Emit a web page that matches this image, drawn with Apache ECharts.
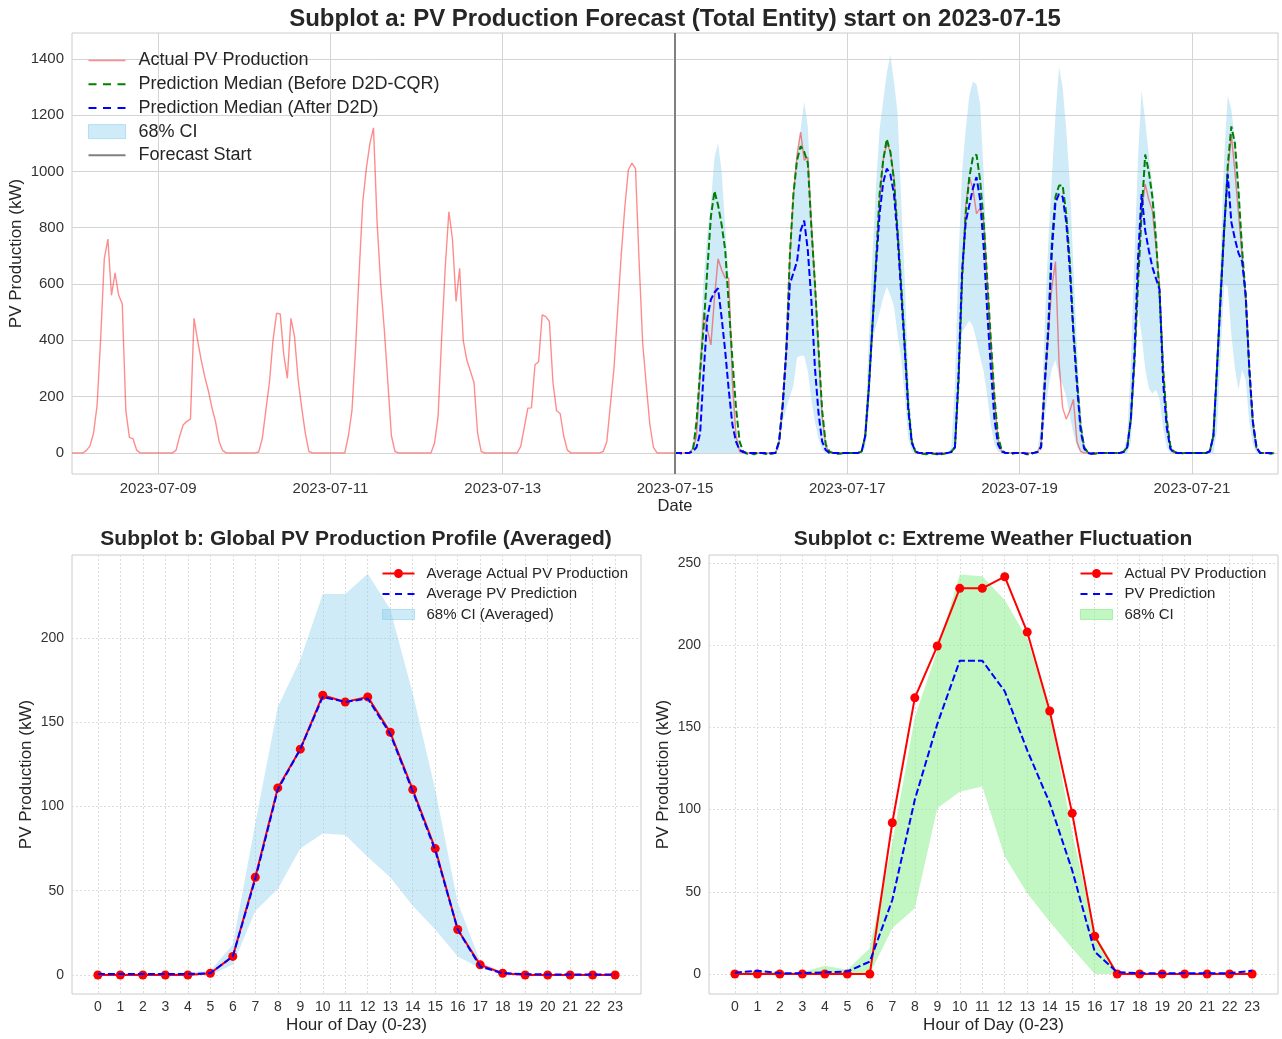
<!DOCTYPE html>
<html><head><meta charset="utf-8">
<script src="https://cdn.jsdelivr.net/npm/echarts@6/dist/echarts.min.js"></script>
<style>html,body{margin:0;padding:0;background:#fff}#c{width:1282px;height:1039px}</style>
</head><body><div id="c"></div>
<script>
// ---------- Subplot a: hourly data, hour index counted from 2023-07-08 00:00 ----------
const dateTickHours = [24, 72, 120, 168, 216, 264, 312];
const dateTickLabels = ['2023-07-09','2023-07-11','2023-07-13','2023-07-15','2023-07-17','2023-07-19','2023-07-21'];
const forecastStartHour = 168;
const yTicksA = [0, 200, 400, 600, 800, 1000, 1200, 1400];

const actualHist = [
  0,0,0,0,8,25,70,170,410,690,760,560,640,560,530,150,55,50,10,0,0,0,0,0,          // 07-08
  0,0,0,0,0,10,60,100,112,120,478,400,330,270,220,160,110,40,8,0,0,0,0,0,           // 07-09
  0,0,0,0,3,50,150,250,400,496,494,350,265,478,413,260,160,70,5,0,0,0,0,0,          // 07-10
  0,0,0,0,0,60,150,370,640,890,1010,1100,1155,820,600,440,250,60,5,0,0,0,0,0,       // 07-11
  0,0,0,0,0,34,129,413,662,857,760,538,656,400,330,290,250,70,5,0,0,0,0,0,          // 07-12
  0,0,0,0,0,22,90,159,160,313,324,490,484,467,250,150,140,60,10,0,0,0,0,0,          // 07-13
  0,0,0,0,5,40,170,300,500,700,870,1005,1030,1010,680,390,240,100,20,0,0,0,0,0      // 07-14
];
const actualFcst = [
  0,0,0,0,0,15,60,280,500,440,384,550,690,650,621,621,250,60,5,0,0,0,0,0,           // 07-15
  0,0,0,0,0,40,170,360,700,920,1060,1140,1040,1050,810,600,360,130,25,0,0,0,0,0,    // 07-16
  0,0,0,0,5,60,230,450,680,900,1040,1100,1070,980,790,590,380,160,35,0,0,0,0,0,     // 07-17
  0,0,0,0,0,3,20,260,620,880,980,940,850,870,820,600,390,190,50,5,0,0,0,0,          // 07-18
  0,0,0,0,0,5,30,230,420,590,680,320,160,120,150,190,40,5,0,0,0,0,0,0,              // 07-19
  0,0,0,0,0,3,20,120,330,620,860,955,900,860,733,600,300,110,20,0,0,0,0,0,          // 07-20
  0,0,0,0,0,10,60,300,540,780,1000,1130,1000,850,700,540,290,100,15,0,0,0,0,0       // 07-21
];
const predBefore = [
  0,0,-3,0,0,10,110,290,450,650,840,930,880,810,720,520,330,160,40,5,-3,0,-5,0,     // 07-15
  0,-3,-5,-3,0,40,170,360,700,920,1040,1090,1070,1030,800,600,370,150,30,5,0,-3,-3,0, // 07-16
  0,0,0,0,5,60,230,450,680,920,1040,1115,1070,970,790,600,390,170,40,5,-3,-3,-5,0,  // 07-17
  -3,-5,-5,-3,0,5,20,250,620,850,980,1050,1060,970,820,615,400,200,60,10,0,0,-3,0,  // 07-18
  0,0,-5,-5,0,3,22,250,450,750,910,950,950,850,680,440,260,100,20,3,-3,-3,0,0,      // 07-19
  0,0,0,0,0,5,20,120,320,600,850,1060,1000,910,760,560,300,120,25,5,0,-3,0,0,       // 07-20
  0,0,0,0,0,5,60,300,560,790,1020,1160,1100,930,720,560,300,110,20,0,0,0,-3,0       // 07-21
];
const predAfter = [
  0,0,0,0,0,5,20,70,290,480,545,570,585,480,360,220,100,40,10,3,0,0,0,0,            // 07-15
  0,0,-3,0,0,40,170,360,600,640,680,790,825,720,540,300,140,40,10,0,0,0,0,0,        // 07-16
  0,0,0,0,5,60,230,450,660,850,960,1010,990,920,770,570,370,150,35,5,0,0,0,0,       // 07-17
  0,-3,-3,0,0,3,20,280,650,820,880,940,980,900,730,500,300,120,30,5,0,0,0,0,        // 07-18
  0,0,-3,0,0,3,20,240,430,720,890,920,910,820,650,420,240,80,15,0,-3,0,0,0,         // 07-19
  0,0,0,0,0,3,20,120,350,690,920,790,720,660,620,580,250,90,15,0,0,0,0,0,           // 07-20
  0,0,0,0,0,5,60,300,550,800,990,820,760,710,680,560,300,110,20,0,0,0,0,0           // 07-21
];
const ciLowA = [
  0,0,0,0,0,0,0,0,0,0,0,0,0,0,0,0,0,0,0,0,0,0,0,0,                                  // 07-15
  0,0,0,0,0,10,110,160,200,240,340,345,345,290,190,110,50,10,0,0,0,0,0,0,           // 07-16
  0,0,0,0,0,20,150,400,450,500,550,590,560,520,420,340,200,50,5,0,0,0,0,0,          // 07-17
  0,0,0,0,0,0,20,250,430,450,470,450,400,340,290,200,100,30,5,0,0,0,0,0,            // 07-18
  0,0,0,0,0,0,10,120,230,300,330,270,240,200,130,70,20,5,0,0,0,0,0,0,               // 07-19
  0,0,0,0,0,0,0,40,250,510,420,300,230,210,224,190,90,20,0,0,0,0,0,0,               // 07-20
  0,0,0,0,0,0,0,80,350,600,590,420,300,224,295,259,110,30,0,0,0,0,0,0               // 07-21
];
const ciHighA = [
  0,0,0,0,0,30,150,400,620,780,890,1050,1100,1000,800,620,330,90,20,5,0,0,0,0,      // 07-15
  0,0,0,0,0,50,200,450,720,930,1060,1150,1248,1160,880,640,400,160,35,5,0,0,0,0,    // 07-16
  0,0,0,0,5,100,400,700,950,1150,1250,1350,1414,1320,1210,900,620,280,50,5,0,0,0,0, // 07-17
  0,0,0,0,0,20,250,700,1000,1150,1270,1320,1310,1240,990,640,420,210,60,10,0,0,0,0, // 07-18
  0,0,0,0,0,10,100,450,750,980,1200,1370,1300,1150,960,660,380,140,30,5,0,0,0,0,    // 07-19
  0,0,0,0,0,5,60,320,700,1050,1290,1180,1060,950,830,600,330,160,30,5,0,0,0,0,      // 07-20
  0,0,0,0,0,10,100,380,700,1050,1270,1220,1110,960,780,580,320,130,25,5,0,0,0,0     // 07-21
];

// ---------- Subplot b: averaged daily profile ----------
const hourLabels = ['0','1','2','3','4','5','6','7','8','9','10','11','12','13','14','15','16','17','18','19','20','21','22','23'];
const yTicksB = [0, 50, 100, 150, 200];
const avgActualB = [0,0,0,0,0,1,11,58,111,134,166,162,165,144,110,75,27,6,1,0,0,0,0,0];
const avgPredB   = [0.5,0.5,0.5,0.5,0.5,1,11,57,110,134,165,162,164,143,109,74,27,5,1,0.5,0.3,0.3,0.3,0.3];
const ciLowB     = [0,0,0,0,0,0,6,38,51,75,84,83,70,58,41,27,11,4,0.5,0,0,0,0,0];
const ciHighB    = [1,1,1,1,1.5,2.5,18,90,159,187,226,226,238,217,167,110,43,8,1.5,0.5,0.5,0.5,0.5,0.5];

// ---------- Subplot c: extreme weather day ----------
const yTicksC = [0, 50, 100, 150, 200, 250];
const actualC  = [0,0,0,0,0,0,0,92,168,199.5,234.6,234.6,241.7,208,160,97.7,23,0,0,0,0,0,0,0];
const predC    = [0.8,2,0.5,0.5,1,1.5,7.5,45,106,152,190.6,190.6,172,136,104,63,13.6,1,0.5,0.5,0.5,0.5,0.5,2];
const ciLowC   = [0,0,0,0,0,0,0,27.8,40,100.8,110.9,114,71.4,49.1,31.8,15.6,0,0,0,0,0,0,0,0];
const ciHighC  = [1,2,1,1,5,2.5,15.6,80,156,197,243,242,227.5,204,160,86,25,1,0.5,0.5,0.5,0.5,0.5,1];

// ---------- build ----------
const FONT = "'Liberation Sans', Arial, Helvetica, sans-serif";
const TXT = '#333333';
const actualAll = actualHist.concat(actualFcst);
const xy = (arr, off) => arr.map((v, i) => [off + i, v]);
const hourVals = hourLabels.map(Number);

// legend icon shapes (legend glyphs only)
const ICON_SOLID_A = 'path://M0,0H37V1.5H0Z';
const ICON_SOLID2_A = 'path://M0,0H37V2H0Z';
const ICON_DASH_A = 'path://M0,0H8V2H0Z M14.5,0H22.5V2H14.5Z M29,0H37V2H29Z';
const ICON_DASH_B = 'path://M0,0H7V2H0Z M12.5,0H19.5V2H12.5Z M25,0H32V2H25Z';
const ICON_MARK_B = 'path://M0,4H11.6V6H0Z M20.4,4H32V6H20.4Z M11.5,5A4.5,4.5 0 1 0 20.5,5A4.5,4.5 0 1 0 11.5,5Z';

function bandSeries(name, axisIdx, lo, hi, off, color) {
  return {
    name: name, type: 'custom', coordinateSystem: 'cartesian2d', xAxisIndex: axisIdx, yAxisIndex: axisIdx,
    data: lo.map((v, i) => [off + i, v, hi[i]]),
    encode: { x: 0, y: [1, 2] },
    itemStyle: { color: color },
    silent: true, z: 1,
    renderItem: function (params, api) {
      if (params.dataIndex !== 0) return null;
      const top = hi.map((v, i) => api.coord([off + i, v]));
      const bot = lo.map((v, i) => api.coord([off + i, v])).reverse();
      return { type: 'polygon', shape: { points: top.concat(bot) }, style: { fill: color, stroke: null } };
    }
  };
}
function xAxisHour(idx) {
  return {
    gridIndex: idx, type: 'value', min: -1.15, max: 24.15,
    axisLine: { show: false },
    axisTick: { show: false, customValues: hourVals },
    axisLabel: { customValues: hourVals, formatter: v => hourLabels[hourVals.indexOf(v)], color: TXT, fontSize: 14, margin: 6, fontFamily: FONT },
    splitLine: { show: true, lineStyle: { color: '#dddddd', width: 1, type: [2, 2] } },
    name: 'Hour of Day (0-23)', nameLocation: 'middle', nameGap: 23,
    nameTextStyle: { fontSize: 17, color: '#262626', fontFamily: FONT }
  };
}
function yAxisVal(idx, min, max, ticks, gap, fs) {
  return {
    gridIndex: idx, type: 'value', min: min, max: max,
    axisLine: { show: false },
    axisTick: { show: false, customValues: ticks },
    axisLabel: { customValues: ticks, formatter: v => String(v), color: TXT, fontSize: fs, margin: 8, fontFamily: FONT },
    splitLine: { show: true, lineStyle: { color: '#dddddd', width: 1, type: [2, 2] } },
    name: 'PV Production (kW)', nameLocation: 'middle', nameGap: gap, nameRotate: 90, nameMoveOverlap: false,
    nameTextStyle: { fontSize: 17, color: '#262626', fontFamily: FONT }
  };
}
const noSym = { symbol: 'none', showSymbol: false };
const titleStyle = (t, fs) => ({ text: t, fill: '#262626', fontSize: fs, fontWeight: 'bold', fontFamily: FONT, align: 'center', verticalAlign: 'middle', textAlign: 'center', textVerticalAlign: 'middle' });

const option = {
  animation: false,
  backgroundColor: '#ffffff',
  textStyle: { fontFamily: FONT },
  grid: [
    { left: 72, right: 4, top: 33, height: 441, show: true, borderColor: '#cccccc', borderWidth: 1, outerBoundsMode: 'none' },
    { left: 72, width: 569, top: 555, height: 439, show: true, borderColor: '#cccccc', borderWidth: 1, outerBoundsMode: 'none' },
    { left: 709, width: 569, top: 555, height: 439, show: true, borderColor: '#cccccc', borderWidth: 1, outerBoundsMode: 'none' }
  ],
  xAxis: [
    {
      gridIndex: 0, type: 'value', min: 0, max: 336,
      axisLine: { show: false },
      axisTick: { show: false, customValues: dateTickHours },
      axisLabel: { customValues: dateTickHours, formatter: v => dateTickLabels[dateTickHours.indexOf(v)], color: TXT, fontSize: 15, margin: 7, fontFamily: FONT },
      splitLine: { show: true, lineStyle: { color: '#d4d4d4', width: 1 } },
      name: 'Date', nameLocation: 'middle', nameGap: 24,
      nameTextStyle: { fontSize: 16.5, color: '#262626', fontFamily: FONT }
    },
    xAxisHour(1), xAxisHour(2)
  ],
  yAxis: [
    Object.assign(yAxisVal(0, -75, 1492, yTicksA, 47, 15), { splitLine: { show: true, lineStyle: { color: '#d4d4d4', width: 1 } } }),
    yAxisVal(1, -11.3, 249.2, yTicksB, 37, 14),
    yAxisVal(2, -12.2, 254.9, yTicksC, 37, 14)
  ],
  legend: [
    {
      left: 88, top: 51.5, orient: 'vertical', padding: 0, itemWidth: 37, itemHeight: 14, itemGap: 5.7,
      selectedMode: false,
      textStyle: { fontSize: 18, color: '#262626', fontFamily: FONT, padding: [0, 0, 0, 8] },
      data: [
        { name: 'Actual PV Production', icon: ICON_SOLID_A },
        { name: 'Prediction Median (Before D2D-CQR)', icon: ICON_DASH_A },
        { name: 'Prediction Median (After D2D)', icon: ICON_DASH_A },
        { name: '68% CI', icon: 'rect', itemStyle: { color: 'rgba(135,206,235,0.4)', borderColor: 'rgba(135,206,235,0.55)', borderWidth: 1 } },
        { name: 'Forecast Start', icon: ICON_SOLID2_A }
      ]
    },
    {
      left: 382, top: 566, orient: 'vertical', padding: 0, itemWidth: 32, itemHeight: 10, itemGap: 5.5,
      selectedMode: false,
      textStyle: { fontSize: 15, color: '#262626', fontFamily: FONT, padding: [0, 0, 0, 7] },
      data: [
        { name: 'Average Actual PV Production', icon: ICON_MARK_B },
        { name: 'Average PV Prediction', icon: ICON_DASH_B },
        { name: '68% CI (Averaged)', icon: 'rect', itemStyle: { color: 'rgba(135,206,235,0.4)', borderColor: 'rgba(135,206,235,0.55)', borderWidth: 1 } }
      ]
    },
    {
      left: 1080, top: 566, orient: 'vertical', padding: 0, itemWidth: 32, itemHeight: 10, itemGap: 5.5,
      selectedMode: false,
      textStyle: { fontSize: 15, color: '#262626', fontFamily: FONT, padding: [0, 0, 0, 7] },
      data: [
        { name: 'Actual PV Production ', icon: ICON_MARK_B },
        { name: 'PV Prediction', icon: ICON_DASH_B },
        { name: '68% CI ', icon: 'rect', itemStyle: { color: 'rgba(144,238,144,0.55)', borderColor: 'rgba(144,238,144,0.7)', borderWidth: 1 } }
      ]
    }
  ],
  graphic: [
    { type: 'text', x: 675, y: 19, style: titleStyle('Subplot a: PV Production Forecast (Total Entity) start on 2023-07-15', 24) },
    { type: 'text', x: 356, y: 539, style: titleStyle('Subplot b: Global PV Production Profile (Averaged)', 21) },
    { type: 'text', x: 993, y: 539, style: titleStyle('Subplot c: Extreme Weather Fluctuation', 21) }
  ],
  series: [
    // ---- a ----
    bandSeries('68% CI', 0, ciLowA, ciHighA, forecastStartHour, 'rgba(135,206,235,0.4)'),
    Object.assign({ name: 'Actual PV Production', type: 'line', xAxisIndex: 0, yAxisIndex: 0, data: xy(actualAll, 0), lineStyle: { color: 'rgba(255,0,0,0.45)', width: 1.4 }, itemStyle: { color: 'rgba(255,0,0,0.45)' }, z: 2 }, noSym),
    Object.assign({ name: 'Prediction Median (Before D2D-CQR)', type: 'line', xAxisIndex: 0, yAxisIndex: 0, data: xy(predBefore, forecastStartHour), lineStyle: { color: '#008000', width: 2, type: [7, 3] }, itemStyle: { color: '#008000' }, z: 3 }, noSym),
    Object.assign({ name: 'Prediction Median (After D2D)', type: 'line', xAxisIndex: 0, yAxisIndex: 0, data: xy(predAfter, forecastStartHour), lineStyle: { color: '#0000ff', width: 2, type: [7, 3] }, itemStyle: { color: '#0000ff' }, z: 4 }, noSym),
    Object.assign({ name: 'Forecast Start', type: 'line', xAxisIndex: 0, yAxisIndex: 0, data: [[forecastStartHour, -75], [forecastStartHour, 1492]], lineStyle: { color: '#808080', width: 2 }, itemStyle: { color: '#808080' }, z: 5 }, noSym),
    // ---- b ----
    bandSeries('68% CI (Averaged)', 1, ciLowB, ciHighB, 0, 'rgba(135,206,235,0.4)'),
    { name: 'Average Actual PV Production', type: 'line', xAxisIndex: 1, yAxisIndex: 1, data: xy(avgActualB, 0), symbol: 'circle', symbolSize: 9, showSymbol: true, lineStyle: { color: '#ff0000', width: 2 }, itemStyle: { color: '#ff0000' }, z: 2 },
    Object.assign({ name: 'Average PV Prediction', type: 'line', xAxisIndex: 1, yAxisIndex: 1, data: xy(avgPredB, 0), lineStyle: { color: '#0000ff', width: 2, type: [7, 3] }, itemStyle: { color: '#0000ff' }, z: 3 }, noSym),
    // ---- c ----
    bandSeries('68% CI ', 2, ciLowC, ciHighC, 0, 'rgba(144,238,144,0.55)'),
    { name: 'Actual PV Production ', type: 'line', xAxisIndex: 2, yAxisIndex: 2, data: xy(actualC, 0), symbol: 'circle', symbolSize: 9, showSymbol: true, lineStyle: { color: '#ff0000', width: 2 }, itemStyle: { color: '#ff0000' }, z: 2 },
    Object.assign({ name: 'PV Prediction', type: 'line', xAxisIndex: 2, yAxisIndex: 2, data: xy(predC, 0), lineStyle: { color: '#0000ff', width: 2, type: [7, 3] }, itemStyle: { color: '#0000ff' }, z: 3 }, noSym)
  ]
};

const chart = echarts.init(document.getElementById('c'), null, { renderer: 'canvas', width: 1282, height: 1039 });
chart.setOption(option);
</script>
</body></html>
